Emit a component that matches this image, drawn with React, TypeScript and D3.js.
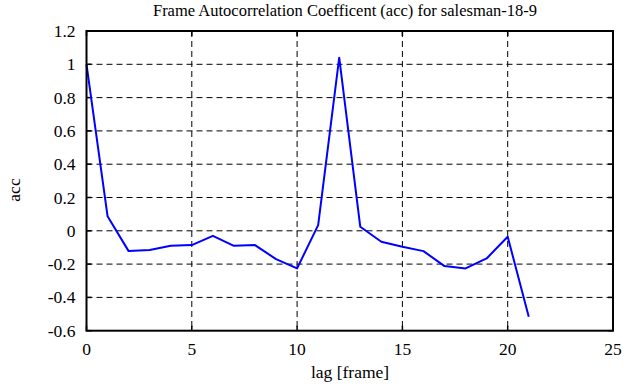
import React from 'react'
import * as d3 from 'd3'

const lags = [0, 1, 2, 3, 4, 5, 6, 7, 8, 9, 10, 11, 12, 13, 14, 15, 16, 17, 18, 19, 20, 21]
const acc = [1.0, 0.088, -0.122, -0.115, -0.09, -0.086, -0.03, -0.09, -0.086, -0.17, -0.226, 0.034, 1.04,
  0.024, -0.066, -0.096, -0.122, -0.212, -0.226, -0.166, -0.036, -0.516]
const xTicks = [0, 5, 10, 15, 20, 25]
const yTicks = [-0.6, -0.4, -0.2, 0, 0.2, 0.4, 0.6, 0.8, 1, 1.2]

const W = 641
const H = 387
const left = 86.5
const right = 613
const top = 31
const bottom = 330.7
const txt = { fontFamily: "'Liberation Serif', serif", fontSize: 17.5 }

const App = () => {
  const x = d3.scaleLinear().domain([0, 25]).range([left, right])
  const y = d3.scaleLinear().domain([-0.6, 1.2]).range([bottom, top])

  const line = d3.line<number>()
    .x((d, i) => x(lags[i]))
    .y(d => y(d))

  const fmt = (v: number) => (Math.abs(v) < 1e-9 ? '0' : String(+v.toFixed(1)))

  return (
    <svg width={W} height={H} style={{ position: 'absolute', left: 0, top: 0 }}>
      <rect width={W} height={H} fill="#fff" />
      <text x={345} y={15.5} textAnchor="middle" style={{ ...txt, fontSize: 16.5 }}>
        Frame Autocorrelation Coefficent (acc) for salesman-18-9
      </text>
      {/* grid */}
      <g stroke="#000" strokeWidth={1} strokeDasharray="6,4">
        {xTicks.slice(1, -1).map(t => (
          <line key={'gx' + t} x1={x(t)} x2={x(t)} y1={top} y2={bottom} />
        ))}
        {yTicks.slice(1, -1).map(t => (
          <line key={'gy' + t} x1={left} x2={right} y1={y(t)} y2={y(t)} />
        ))}
      </g>
      {/* ticks */}
      <g stroke="#000" strokeWidth={1.5}>
        {xTicks.map(t => (
          <g key={'tx' + t}>
            <line x1={x(t)} x2={x(t)} y1={bottom} y2={bottom - 5} />
            <line x1={x(t)} x2={x(t)} y1={top} y2={top + 5} />
          </g>
        ))}
        {yTicks.map(t => (
          <g key={'ty' + t}>
            <line x1={left} x2={left + 5} y1={y(t)} y2={y(t)} />
            <line x1={right} x2={right - 5} y1={y(t)} y2={y(t)} />
          </g>
        ))}
      </g>
      <path d={line(acc) ?? ''} fill="none" stroke="#0000ff" strokeWidth={2} strokeLinejoin="round" />
      <rect x={left} y={top} width={right - left} height={bottom - top} fill="none" stroke="#000" strokeWidth={2} />
      {/* tick labels */}
      {xTicks.map(t => (
        <text key={'lx' + t} x={x(t)} y={355} textAnchor="middle" style={txt}>{t}</text>
      ))}
      {yTicks.map(t => (
        <text key={'ly' + t} x={75.5} y={y(t) + 6} textAnchor="end" style={txt}>{fmt(t)}</text>
      ))}
      <text x={350} y={378} textAnchor="middle" style={txt}>lag [frame]</text>
      <text transform="translate(20,190) rotate(-90)" textAnchor="middle" style={txt}>acc</text>
    </svg>
  )
}

export default App
